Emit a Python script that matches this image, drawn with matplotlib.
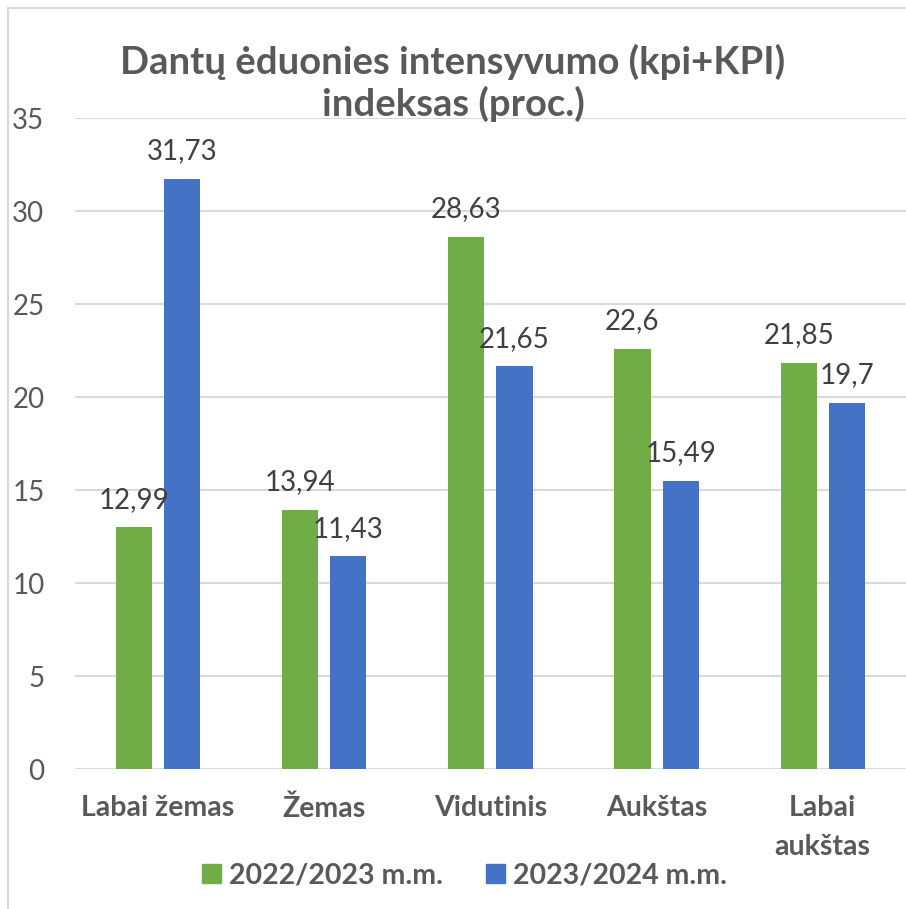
import numpy as np
import matplotlib.pyplot as plt
from matplotlib.lines import Line2D
from matplotlib.patches import Patch

plt.rcParams['font.family'] = ['Lato', 'DejaVu Sans']

categories = ['Labai žemas', 'Žemas', 'Vidutinis', 'Aukštas', 'Labai\naukštas']
series_names = ['2022/2023 m.m.', '2023/2024 m.m.']
vals_2022 = [12.99, 13.94, 28.63, 22.6, 21.85]
vals_2023 = [31.73, 11.43, 21.65, 15.49, 19.7]
yticks = [0, 5, 10, 15, 20, 25, 30, 35]

green = '#70AD47'
blue = '#4472C4'
grid_col = '#D9D9D9'
txt_col = '#595959'

fig = plt.figure(figsize=(9.06, 9.09), dpi=100)
ax = fig.add_axes([0.0828, 0.154, 0.917, 0.716])

x = np.arange(len(categories))
w = 0.217
off = 0.145
b1 = ax.bar(x - off, vals_2022, w, color=green, zorder=3)
b2 = ax.bar(x + off, vals_2023, w, color=blue, zorder=3)

def fmt(v):
    s = ('%.2f' % v).rstrip('0').rstrip('.')
    return s.replace('.', ',')

for bars, vals in [(b1, vals_2022), (b2, vals_2023)]:
    for r, v in zip(bars, vals):
        ax.annotate(fmt(v), (r.get_x() + r.get_width() / 2, v),
                    xytext=(0, 14), textcoords='offset points',
                    ha='center', va='baseline', fontsize=20, color='#404040', zorder=4)

ax.set_xlim(-0.5, 4.5)
ax.set_ylim(0, 35)
ax.set_yticks(yticks)
ax.set_xticks(x)
ax.set_xticklabels(categories, fontsize=20.5, fontweight='bold', color=txt_col, linespacing=1.6)
ax.tick_params(axis='y', labelsize=20, labelcolor=txt_col, length=0, pad=22)
ax.tick_params(axis='x', length=0, pad=19)
ax.grid(axis='y', color=grid_col, linewidth=1.5, zorder=0)
for s in ax.spines.values():
    s.set_visible(False)

fig.text(0.5, 1 - 83 / 909, 'Dantų ėduonies intensyvumo (kpi+KPI)\nindeksas (proc.)',
         ha='center', va='center', fontsize=27.5, fontweight='bold', color=txt_col, linespacing=1.2)

handles = [Patch(color=green), Patch(color=blue)]
fig.legend(handles, series_names, loc='center', bbox_to_anchor=(0.513, 0.037), ncol=2,
           frameon=False, prop={'size': 20.5, 'weight': 'bold'}, labelcolor=txt_col,
           handlelength=0.65, handleheight=0.65, handletextpad=0.3, columnspacing=1.5)

# chart border
fig.add_artist(Line2D([8 / 906, 8 / 906], [0, 1 - 8 / 909], transform=fig.transFigure, color=grid_col, lw=1.5))
fig.add_artist(Line2D([8 / 906, 1], [1 - 8 / 909, 1 - 8 / 909], transform=fig.transFigure, color=grid_col, lw=1.5))

fig.savefig('out.png', dpi=100)
